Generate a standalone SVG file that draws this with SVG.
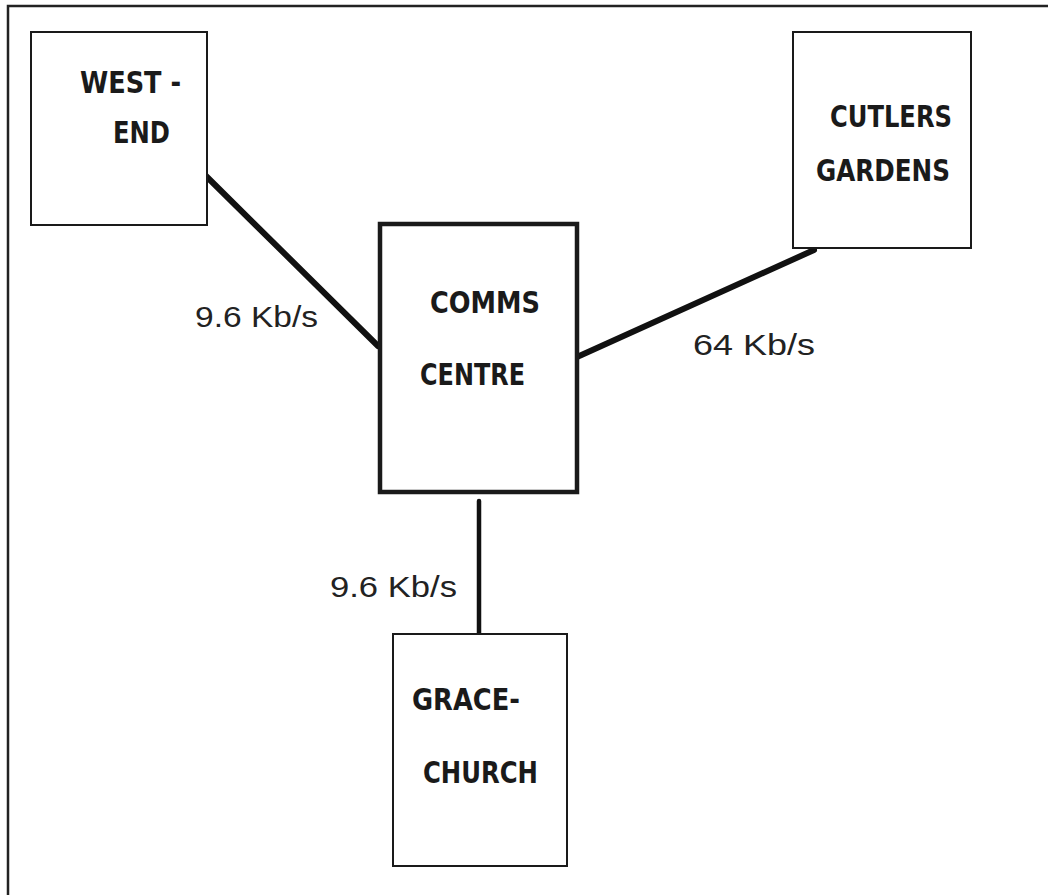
<svg xmlns="http://www.w3.org/2000/svg" width="1048" height="895" viewBox="0 0 1048 895">
<style>
.box{fill:#fff;stroke:#1a1a1a;stroke-width:2}
.thick{stroke-width:4.5}
.name{font-family:"DejaVu Sans Condensed","DejaVu Sans",sans-serif;font-weight:bold;font-size:30px;fill:#1a1a1a}
.lab{font-family:"Liberation Sans",Arial,sans-serif;font-size:29px;fill:#222}
.conn{stroke:#111;fill:none;stroke-linecap:round}
</style>
<rect width="1048" height="895" fill="#fff"/>
<path d="M8,895 V6 H1048" fill="none" stroke="#222" stroke-width="2.5"/>
<g id="connectors">
<line class="conn" x1="205" y1="175" x2="378" y2="346" stroke-width="6"/>
<line class="conn" x1="577" y1="357" x2="814" y2="250" stroke-width="6"/>
<line class="conn" x1="479" y1="501" x2="479" y2="634" stroke-width="4.5"/>
<text class="lab" x="195" y="327" textLength="123" lengthAdjust="spacingAndGlyphs">9.6 Kb/s</text>
<text class="lab" x="693" y="355" textLength="122" lengthAdjust="spacingAndGlyphs">64 Kb/s</text>
<text class="lab" x="330" y="597" textLength="127" lengthAdjust="spacingAndGlyphs">9.6 Kb/s</text>
</g>
<g id="west-end">
<rect class="box" x="31" y="32" width="176" height="193"/>
<text class="name" x="80" y="93" textLength="101" lengthAdjust="spacingAndGlyphs">WEST -</text>
<text class="name" x="113" y="143" textLength="57" lengthAdjust="spacingAndGlyphs">END</text>
</g>
<g id="cutlers-gardens">
<rect class="box" x="793" y="32" width="178" height="216"/>
<text class="name" x="830" y="127" textLength="122" lengthAdjust="spacingAndGlyphs">CUTLERS</text>
<text class="name" x="816" y="181" textLength="134" lengthAdjust="spacingAndGlyphs">GARDENS</text>
</g>
<g id="comms-centre">
<rect class="box thick" x="380" y="224" width="197" height="268"/>
<text class="name" x="430" y="313" textLength="110" lengthAdjust="spacingAndGlyphs">COMMS</text>
<text class="name" x="420" y="385" textLength="105" lengthAdjust="spacingAndGlyphs">CENTRE</text>
</g>
<g id="grace-church">
<rect class="box" x="393" y="634" width="174" height="232"/>
<text class="name" x="412" y="710" textLength="108" lengthAdjust="spacingAndGlyphs">GRACE-</text>
<text class="name" x="423" y="783" textLength="115" lengthAdjust="spacingAndGlyphs">CHURCH</text>
</g>
</svg>
